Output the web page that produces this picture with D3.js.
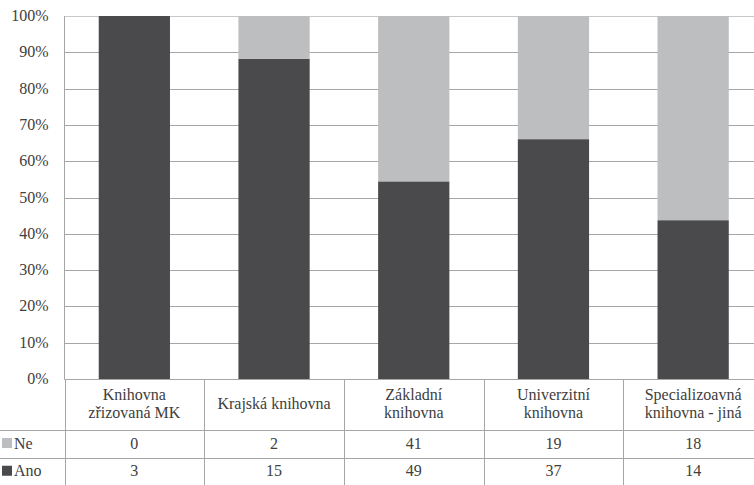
<!DOCTYPE html>
<html>
<head>
<meta charset="utf-8">
<script src="https://cdn.jsdelivr.net/npm/d3@7"></script>
<style>
  html, body { margin: 0; padding: 0; background: #fff; font-family: "Liberation Serif", serif; }
  svg { display: block; }
</style>
</head>
<body>
<script>
// Library types and counts of answers
const categories = [
  ["Knihovna", "zřizovaná MK"],
  ["Krajská knihovna"],
  ["Základní", "knihovna"],
  ["Univerzitní", "knihovna"],
  ["Specializoavná", "knihovna - jiná"]
];
const seriesNames = ["Ano", "Ne"];
const ano = [3, 15, 49, 37, 14];
const ne = [0, 2, 41, 19, 18];
const tickLabels = ["0%", "10%", "20%", "30%", "40%", "50%", "60%", "70%", "80%", "90%", "100%"];
const tickValues = [0, 0.1, 0.2, 0.3, 0.4, 0.5, 0.6, 0.7, 0.8, 0.9, 1];

const colors = { Ano: "#4a4a4c", Ne: "#bdbebf" };

(function draw() {
const FONT = "Liberation Serif";
const FS = 16;
const TXT = "#404040";
const svg = d3.select("body").append("svg")
  .attr("width", 754).attr("height", 485);
const plotLeft = 64.5, plotRight = 763, plotTop = 16, plotBottom = 379;
const catRowBottom = 429.5, neRowBottom = 457.5, anoRowBottom = 486;

const styleText = sel => sel
  .attr("font-family", FONT)
  .attr("font-size", FS)
  .attr("fill", TXT);

const x = d3.scaleBand()
  .domain(d3.range(categories.length))
  .range([plotLeft, plotRight]);

const y = d3.scaleLinear().domain([0, 1]).range([plotBottom, plotTop]);

// gridlines
svg.append("g")
  .selectAll("line")
  .data(tickValues)
  .join("line")
  .attr("x1", plotLeft).attr("x2", plotRight)
  .attr("y1", d => Math.round(y(d)) + 0.5)
  .attr("y2", d => Math.round(y(d)) + 0.5)
  .attr("stroke", d => d === 1 ? "#c8c8c8" : "#a6a6a6");

// y axis labels (drawn as plain text at scale positions)
svg.append("g")
  .selectAll("text")
  .data(tickValues)
  .join("text")
  .attr("x", plotLeft - 16)
  .attr("y", d => y(d) + 5)
  .attr("text-anchor", "end")
  .call(styleText)
  .text((d, i) => tickLabels[i]);

// stacked 100% bars
const rows = categories.map((c, i) => ({ i, Ano: ano[i], Ne: ne[i] }));
const stacked = d3.stack().keys(seriesNames).offset(d3.stackOffsetExpand)(rows);

const barW = x.bandwidth() * 0.51;
svg.append("g")
  .selectAll("g")
  .data(stacked)
  .join("g")
  .attr("fill", d => colors[d.key])
  .selectAll("rect")
  .data(d => d)
  .join("rect")
  .attr("x", d => x(d.data.i) + (x.bandwidth() - barW) / 2)
  .attr("width", barW)
  .attr("y", d => y(d[1]))
  .attr("height", d => Math.max(0, y(d[0]) - y(d[1])));

// left axis line
svg.append("line")
  .attr("x1", plotLeft).attr("x2", plotLeft)
  .attr("y1", plotTop).attr("y2", plotBottom)
  .attr("stroke", "#a6a6a6");

// data table
const lineColor = "#a6a6a6";
const tbl = svg.append("g");
[[plotLeft, plotBottom], [0, catRowBottom], [0, neRowBottom]].forEach(([x0, yy]) => {
  tbl.append("line")
    .attr("x1", x0).attr("x2", plotRight)
    .attr("y1", Math.round(yy) + 0.5).attr("y2", Math.round(yy) + 0.5)
    .attr("stroke", lineColor);
});
d3.range(categories.length + 1).forEach(i => {
  const xx = i < categories.length ? x(i) : plotRight;
  tbl.append("line")
    .attr("x1", Math.round(xx) + 0.5).attr("x2", Math.round(xx) + 0.5)
    .attr("y1", plotBottom).attr("y2", anoRowBottom)
    .attr("stroke", lineColor);
});

// category labels
categories.forEach((lines, i) => {
  const cx = x(i) + x.bandwidth() / 2;
  const cy = (plotBottom + catRowBottom) / 2;
  const lh = 18;
  const y0 = cy - (lines.length - 1) * lh / 2 + 5;
  lines.forEach((s, k) => {
    tbl.append("text")
      .attr("x", cx).attr("y", y0 + k * lh)
      .attr("text-anchor", "middle")
      .call(styleText)
      .text(s);
  });
});

// value rows
const tableRows = [
  { name: "Ne", values: ne, y0: catRowBottom, y1: neRowBottom },
  { name: "Ano", values: ano, y0: neRowBottom, y1: anoRowBottom - 1 }
];
tableRows.forEach(r => {
  const cy = (r.y0 + r.y1) / 2 + 5;
  tbl.append("rect")
    .attr("x", 2).attr("y", cy - 10.5)
    .attr("width", 10).attr("height", 10)
    .attr("fill", colors[r.name]);
  tbl.append("text")
    .attr("x", 14).attr("y", cy)
    .call(styleText)
    .text(r.name);
  r.values.forEach((v, i) => {
    tbl.append("text")
      .attr("x", x(i) + x.bandwidth() / 2)
      .attr("y", cy)
      .attr("text-anchor", "middle")
      .call(styleText)
      .text(v);
  });
});
})();
</script>
</body>
</html>
